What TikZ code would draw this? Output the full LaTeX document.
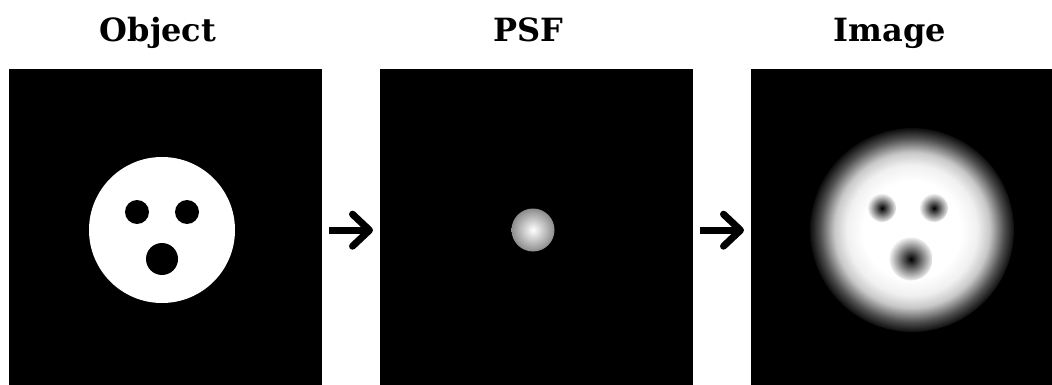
\documentclass[tikz,border=0pt]{standalone}
\usepackage{fontspec}
\setmainfont{DejaVu Serif}
\usepackage{tikz}
\usetikzlibrary{arrows.meta, positioning}
\usepackage{xcolor}
\definecolor{cPsfRim}{RGB}{140,140,140}
\definecolor{cHalo}{RGB}{238,238,238}
\definecolor{cPlate}{RGB}{240,240,240}
\definecolor{cRing}{RGB}{200,200,200}
\definecolor{cFade}{RGB}{80,80,80}
% blurred disc: flat centre, soft rim
\pgfdeclareradialshading{blurdisc}{\pgfpointorigin}{%
  color(0bp)=(white); color(12bp)=(white); color(16bp)=(cPlate);
  color(19bp)=(cRing); color(22.5bp)=(cFade); color(25.5bp)=(black);
  color(50bp)=(black)}
\tikzset{
  panel/.style={rectangle, fill=black, draw=none, anchor=north west,
                minimum height=322pt, inner sep=0pt},
  title/.style={font=\fontsize{32}{36}\selectfont\bfseries, anchor=base,
                inner sep=0pt},
  steparrow/.style={line width=7pt, draw=black,
                    -{Straight Barb[length=17pt, width=32pt, round]}}
}

\begin{document}
\begin{tikzpicture}[x=1pt, y=-1pt]
  \clip (0,0) rectangle (1052,385);
  \fill[white] (0,0) rectangle (1052,385);

  % Panels
  \node[panel, minimum width=313pt] (obj) at (9,69) {};
  \node[panel, minimum width=313pt] (psf) at (380,69) {};
  \node[panel, minimum width=329pt] (img) at (751,69) {};

  % Titles
  \node[title] (tObj) at (158,42) {Object};
  \node[title] (tPsf) at (528,42) {PSF};
  \node[title] (tImg) at (890,42) {Image};

  % Object: sharp face
  \fill[white] (162,230) circle (73pt);
  \fill[black] (137,212) circle (12pt);
  \fill[black] (187,212) circle (12pt);
  \fill[black] (162,259) circle (16pt);

  % PSF: small soft spot
  \shade[inner color=white, outer color=cPsfRim] (533,230) circle (21.5pt);

  % Image: blurred face
  \shade[shading=blurdisc] (912,230) circle (102pt);
  \shade[inner color=black, outer color=cHalo] (882,208) circle (14pt);
  \shade[inner color=black, outer color=cHalo] (934,208) circle (14pt);
  \shade[inner color=black, outer color=cHalo] (911,259) circle (21.5pt);

  % Arrows
  \draw[steparrow] ([xshift=7pt]obj.east) -- ([xshift=-7pt]psf.west);
  \draw[steparrow] ([xshift=7pt]psf.east) -- ([xshift=-7pt]img.west);
\end{tikzpicture}
\end{document}
